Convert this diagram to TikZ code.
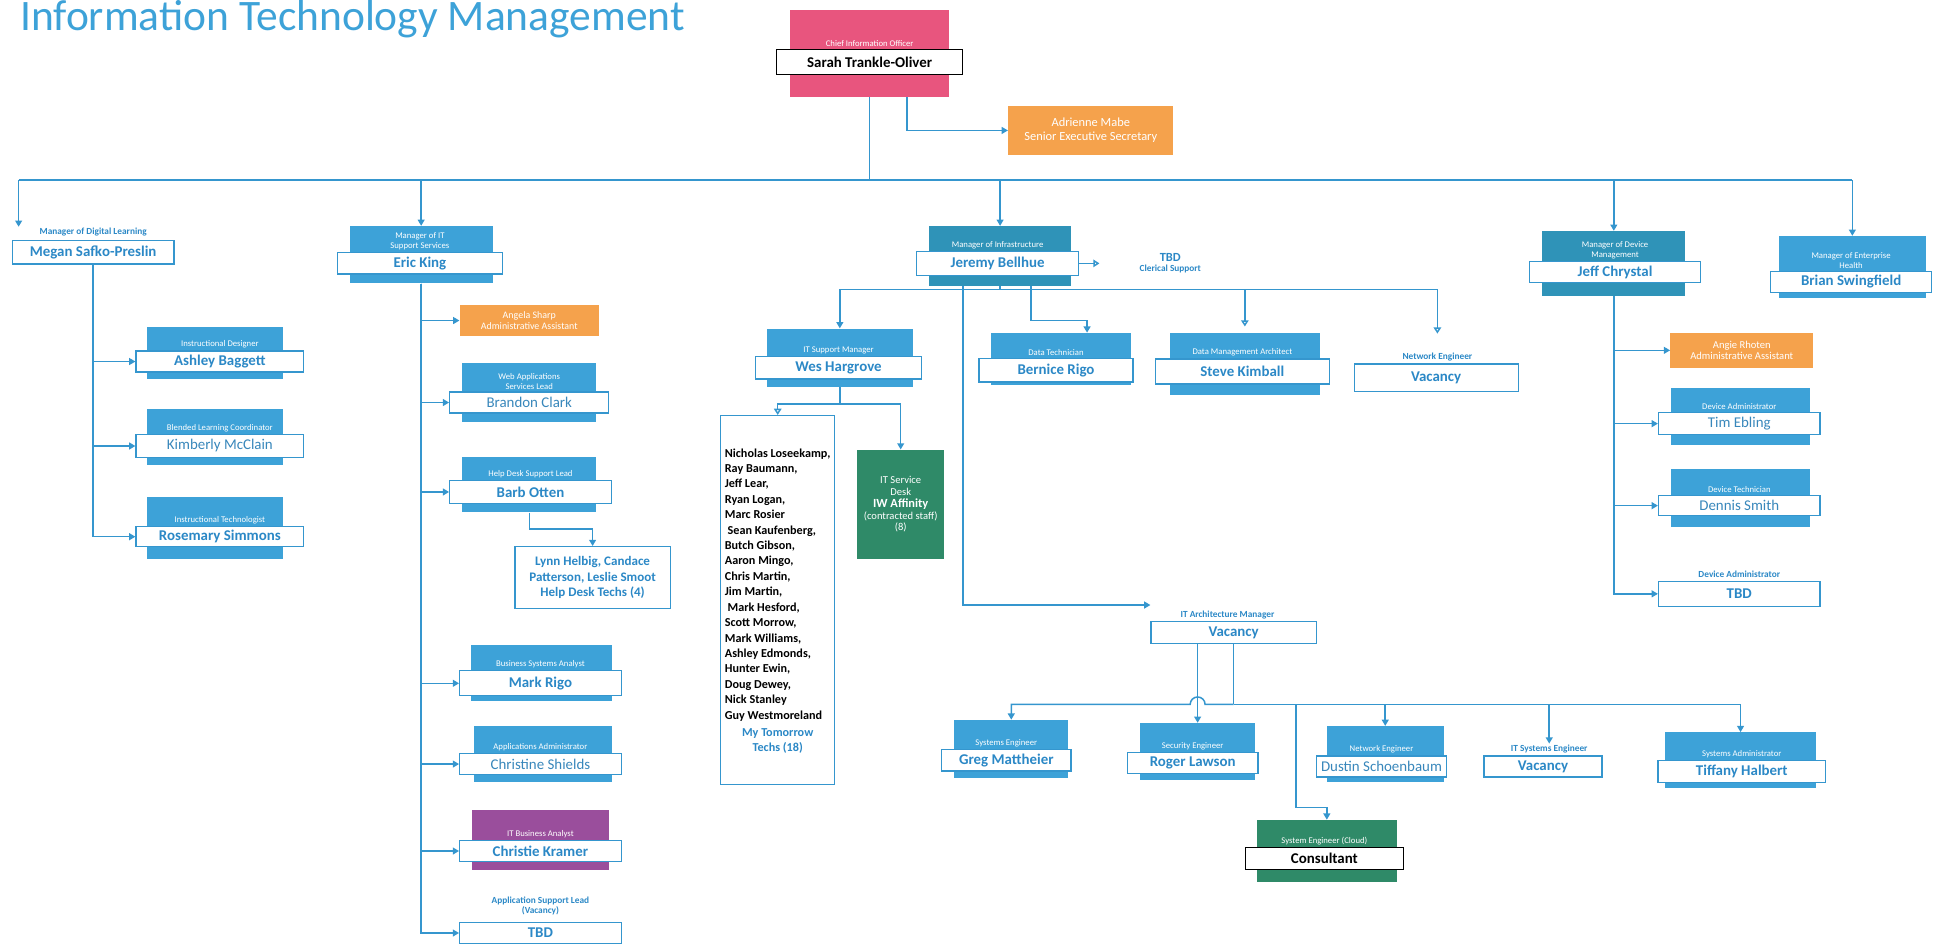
\documentclass[tikz,border=0pt]{standalone}
\usepackage{fontspec}
\setmainfont{Carlito}
\usetikzlibrary{arrows.meta,positioning}

\definecolor{itblue}{HTML}{3DA2D8}
\definecolor{itteal}{HTML}{2F93B8}
\definecolor{itline}{HTML}{3596CE}
\definecolor{itname}{HTML}{2B88C6}
\definecolor{itpink}{HTML}{E8557E}
\definecolor{itorange}{HTML}{F5A24C}
\definecolor{itpurple}{HTML}{9A4E9C}
\definecolor{itgreen}{HTML}{2F8A68}

\begin{document}
\begin{tikzpicture}[x=1pt,y=-1pt,
  conn/.style={draw=itline,line width=1.2pt},
  arr/.style={conn,-{Triangle[length=5pt,width=5.5pt]}},
  oarr/.style={conn,-{Triangle[open,length=5pt,width=6pt,fill=white]}},
  bgbox/.style={fill=#1,draw=none,inner sep=0pt},
  namebox/.style={draw=itline,fill=white,line width=1pt,inner sep=1pt,
    minimum height=18pt,font=\fontsize{12}{13}\selectfont\bfseries,text=itname},
  lightname/.style={font=\fontsize{12}{13}\selectfont,text=itname!85!gray},
  role/.style={label={[font=\fontsize{7}{8}\selectfont,text=white,
    align=center,inner sep=1.5pt]north:#1}},
  jobtitle/.style={font=\fontsize{7.5}{8}\selectfont\bfseries,text=itname,
    align=center,inner sep=1pt},
  tinted/.style={fill=#1,text=white,align=center,inner sep=2pt,
    font=\fontsize{8.5}{9.5}\selectfont},
  listbox/.style={draw=itline,fill=white,line width=1pt,align=center,inner sep=3pt}]

\useasboundingbox (0,0) rectangle (1568,765);
\node[anchor=north west,inner sep=0pt,text=itblue,font=\fontsize{35}{35}\selectfont]
  (heading) at (16,0) {Information Technology Management};

% chief information officer
\node[bgbox=itpink,minimum width=128pt,minimum height=70pt] (cioBG) at (700,43) {};
\node[namebox,draw=black,text=black,minimum width=150pt,minimum height=20pt,
  role={Chief Information Officer}] (cio) at (700,50) {Sarah Trankle-Oliver};
\node[tinted=itorange,minimum width=133pt,minimum height=40pt,
  font=\fontsize{10}{11.5}\selectfont] (adminSec) at (878,105)
  {Adrienne Mabe\\Senior Executive Secretary};

\coordinate (busW) at (15,145);
\coordinate (busE) at (1491,145);
\draw[conn] (cioBG.south) -- (cioBG.south |- busW);
\draw[conn] (busW) -- (busE);
\draw[arr] ([xshift=30pt]cioBG.south) |- (adminSec.west);

% digital learning
\node[jobtitle] (meganT) at (75,187) {Manager of Digital Learning};
\node[namebox,minimum width=130pt,minimum height=19pt] (megan) at (75,203) {Megan Safko-Preslin};
\node[bgbox=itblue,minimum width=110pt,minimum height=42pt] (ashleyBG) at (173,284) {};
\node[namebox,minimum width=135pt,minimum height=17pt,role={Instructional Designer}]
  (ashley) at (177,291) {Ashley Baggett};
\node[bgbox=itblue,minimum width=110pt,minimum height=45pt] (kimberlyBG) at (173,352) {};
\node[namebox,lightname,minimum width=135pt,minimum height=18pt,role={Blended Learning Coordinator}]
  (kimberly) at (177,359) {Kimberly McClain};
\node[bgbox=itblue,minimum width=110pt,minimum height=50pt] (rosemaryBG) at (173,425) {};
\node[namebox,minimum width=135pt,minimum height=16pt,role={Instructional Technologist}]
  (rosemary) at (177,432) {Rosemary Simmons};

\draw[arr] (busW) -- (busW |- meganT.north);
\draw[arr] (megan.south) |- (ashley.west);
\draw[arr] (megan.south) |- (kimberly.west);
\draw[arr] (megan.south) |- (rosemary.west);

% support services
\node[bgbox=itblue,minimum width=115pt,minimum height=46pt] (kingBG) at (339,205) {};
\node[namebox,minimum width=133pt,minimum height=17pt,role={Manager of IT\\Support Services}]
  (king) at (338,212) {Eric King};
\node[tinted=itorange,minimum width=112pt,minimum height=25pt,
  font=\fontsize{8}{9}\selectfont] (angela) at (426,258)
  {Angela Sharp\\Administrative Assistant};
\node[bgbox=itblue,minimum width=108pt,minimum height=48pt] (brandonBG) at (426,316) {};
\node[namebox,lightname,minimum width=128pt,minimum height=17pt,role={Web Applications\\Services Lead}]
  (brandon) at (426,324) {Brandon Clark};
\node[bgbox=itblue,minimum width=108pt,minimum height=45pt] (barbBG) at (426,390) {};
\node[namebox,minimum width=130pt,role={Help Desk Support Lead}] (barb) at (427,396) {Barb Otten};
\node[listbox,text=itname,minimum width=125pt,minimum height=50pt,
  font=\fontsize{10.5}{12.5}\selectfont\bfseries] (helpdesk) at (477,465)
  {Lynn Helbig, Candace\\Patterson, Leslie Smoot\\Help Desk Techs (4)};
\node[bgbox=itblue,minimum width=113pt,minimum height=45pt] (markBG) at (436,542) {};
\node[namebox,minimum width=130pt,minimum height=20pt,role={Business Systems Analyst}]
  (mark) at (435,550) {Mark Rigo};
\node[bgbox=itblue,minimum width=111pt,minimum height=45pt] (christineBG) at (437,607) {};
\node[namebox,lightname,minimum width=130pt,minimum height=17pt,role={Applications Administrator}]
  (christine) at (435,615) {Christine Shields};
\node[bgbox=itpurple,minimum width=110pt,minimum height=48pt] (christieBG) at (435,676) {};
\node[namebox,minimum width=130pt,minimum height=17pt,role={IT Business Analyst}]
  (christie) at (435,685) {Christie Kramer};
\node[jobtitle] (appLeadT) at (435,729) {Application Support Lead\\(Vacancy)};
\node[namebox,minimum width=130pt,minimum height=17pt] (appLead) at (435,751) {TBD};

\draw[arr] (busW -| kingBG.north) -- (kingBG.north);
\draw[arr] (kingBG.south) |- (angela.west);
\draw[arr] (kingBG.south) |- (brandon.west);
\draw[arr] (kingBG.south) |- (barb.west);
\draw[arr] (kingBG.south) |- (mark.west);
\draw[arr] (kingBG.south) |- (christine.west);
\draw[arr] (kingBG.south) |- (christie.west);
\draw[arr] (kingBG.south) |- (appLead.west);
\draw[arr] (barbBG.south) -- ++(0,13) -| (helpdesk.north);

% infrastructure
\node[bgbox=itteal,minimum width=114pt,minimum height=48pt] (jeremyBG) at (805,206) {};
\node[namebox,minimum width=130pt,minimum height=19pt,role={Manager of Infrastructure}]
  (jeremy) at (803,212) {Jeremy Bellhue};
\node[jobtitle] (clerical) at (942,212) {{\fontsize{10}{11}\selectfont TBD}\\Clerical Support};
\coordinate (clerTip) at (885,212);

\node[bgbox=itblue,minimum width=118pt,minimum height=47pt] (wesBG) at (676,288) {};
\node[namebox,minimum width=134pt,role={IT Support Manager}] (wes) at (675,296) {Wes Hargrove};
\node[listbox,minimum width=92pt,minimum height=297pt,
  font=\fontsize{9.8}{12.4}\selectfont\bfseries] (techs) at (626,483)
  {\begin{tabular}{@{}l@{}}Nicholas Loseekamp,\\Ray Baumann,\\Jeff Lear,\\Ryan Logan,\\
   Marc Rosier\\\ Sean Kaufenberg,\\Butch Gibson,\\Aaron Mingo,\\Chris Martin,\\
   Jim Martin,\\\ Mark Hesford,\\Scott Morrow,\\Mark Williams,\\Ashley Edmonds,\\
   Hunter Ewin,\\Doug Dewey,\\Nick Stanley\\Guy Westmoreland\end{tabular}\\[3pt]
   \textcolor{itname}{My Tomorrow}\\\textcolor{itname}{Techs (18)}};
\node[tinted=itgreen,minimum width=70pt,minimum height=88pt] (svcDesk) at (725,406)
  {IT Service\\Desk\\{\fontsize{10}{11}\selectfont\bfseries IW Affinity}\\(contracted staff)\\(8)};
\node[bgbox=itblue,minimum width=112pt,minimum height=42pt] (berniceBG) at (854,289) {};
\node[namebox,minimum width=124pt,minimum height=19pt,role={Data Technician}]
  (bernice) at (850,298) {Bernice Rigo};
\node[bgbox=itblue,minimum width=121pt,minimum height=50pt] (steveBG) at (1002,293) {};
\node[namebox,minimum width=140pt,minimum height=20pt,role={Data Management Architect}]
  (steve) at (1000,299) {Steve Kimball};
\node[jobtitle] (netT) at (1157,287) {Network Engineer};
\node[namebox,minimum width=132pt,minimum height=22pt] (net) at (1156,304) {Vacancy};

\coordinate (infraBus) at (805,233);
\coordinate (wesJ) at (676,325);
\coordinate (bernJ) at (830,258);
\coordinate (archJ) at (775,487);
\draw[arr] (busW -| jeremyBG.north) -- (jeremyBG.north);
\draw[oarr] (jeremy.east) -- (clerTip);
\draw[conn] (jeremyBG.south) -- (infraBus);
\draw[arr] (infraBus) -| (wesBG.north);
\draw[oarr,shorten >=5pt] (infraBus) -| (steveBG.north);
\draw[oarr,shorten >=14pt] (infraBus) -| (netT.north);
\draw[arr] (jeremyBG.south -| bernJ) -- (bernJ) -| ([xshift=21pt]berniceBG.north);
\draw[conn] (wesBG.south) -- (wesJ);
\draw[oarr] (wesJ) -| (techs.north);
\draw[arr] (wesJ) -| (svcDesk.north);

% architecture
\node[jobtitle] (archT) at (988,495) {IT Architecture Manager};
\node[namebox,minimum width=133pt] (arch) at (993,509) {Vacancy};
\draw[arr] (jeremyBG.south -| archJ) -- (archJ) -- (archJ -| arch.west);

\node[bgbox=itblue,minimum width=92pt,minimum height=47pt] (gregBG) at (814,603) {};
\node[namebox,minimum width=104pt,minimum height=17pt,role={Systems Engineer}]
  (greg) at (810,612) {Greg Mattheier};
\node[bgbox=itblue,minimum width=92pt,minimum height=46pt] (rogerBG) at (964,605) {};
\node[namebox,minimum width=105pt,minimum height=17pt,role={Security Engineer}]
  (roger) at (960,614) {Roger Lawson};
\node[bgbox=itblue,minimum width=94pt,minimum height=45pt] (dustinBG) at (1115,607) {};
\node[namebox,lightname,minimum width=105pt,minimum height=17pt,role={Network Engineer}]
  (dustin) at (1112,617) {Dustin Schoenbaum};
\node[jobtitle] (sysEngT) at (1247,603) {IT Systems Engineer};
\node[namebox,minimum width=95pt,minimum height=17pt] (sysEng) at (1242,617) {Vacancy};
\node[bgbox=itblue,minimum width=122pt,minimum height=45pt] (tiffanyBG) at (1401,612) {};
\node[namebox,minimum width=135pt,role={Systems Administrator}]
  (tiffany) at (1402,621) {Tiffany Halbert};
\node[bgbox=itgreen,minimum width=113pt,minimum height=50pt] (consBG) at (1068,685) {};
\node[namebox,draw=black,text=black,minimum width=127pt,role={System Engineer (Cloud)}]
  (cons) at (1066,691) {Consultant};

\coordinate (archBus) at (993,567);
\coordinate (consJ) at (1043,650);
\draw[conn] (arch.south) -- (archBus);
\draw[arr] (arch.south -| rogerBG.north) -- (rogerBG.north);
\draw[arr] (archBus) -- ++(-23,0) arc (0:-180:6) -| (gregBG.north);
\draw[arr] (archBus) -| (dustinBG.north);
\draw[arr] (archBus) -| (sysEngT.north);
\draw[arr] (archBus) -| (tiffanyBG.north);
\draw[arr] (archBus -| consJ) -- (consJ) -| (consBG.north);

% device management and enterprise health
\node[bgbox=itteal,minimum width=115pt,minimum height=52pt] (jeffBG) at (1299,212) {};
\node[namebox,minimum width=138pt,minimum height=17pt,role={Manager of Device\\Management}]
  (jeff) at (1300,219) {Jeff Chrystal};
\node[bgbox=itblue,minimum width=118pt,minimum height=50pt] (brianBG) at (1491,215) {};
\node[namebox,minimum width=130pt,minimum height=17pt,role={Manager of Enterprise\\Health}]
  (brian) at (1490,227) {Brian Swingfield};
\node[tinted=itorange,minimum width=115pt,minimum height=28pt] (angie) at (1402,282)
  {Angie Rhoten\\Administrative Assistant};
\node[bgbox=itblue,minimum width=112pt,minimum height=46pt] (timBG) at (1401,335) {};
\node[namebox,lightname,minimum width=130pt,role={Device Administrator}] (tim) at (1400,341) {Tim Ebling};
\node[bgbox=itblue,minimum width=112pt,minimum height=47pt] (dennisBG) at (1401,401) {};
\node[namebox,lightname,minimum width=130pt,minimum height=16pt,role={Device Technician}]
  (dennis) at (1400,407) {Dennis Smith};
\node[jobtitle] (devAdmT) at (1400,462) {Device Administrator};
\node[namebox,minimum width=130pt,minimum height=20pt] (devAdm) at (1400,478) {TBD};

\draw[arr] (busW -| jeffBG.north) -- (jeffBG.north);
\draw[arr] (busE) -- (brianBG.north);
\draw[arr] (jeffBG.south) |- (angie.west);
\draw[arr] (jeffBG.south) |- (tim.west);
\draw[arr] (jeffBG.south) |- (dennis.west);
\draw[arr] (jeffBG.south) |- (devAdm.west);
\end{tikzpicture}
\end{document}
